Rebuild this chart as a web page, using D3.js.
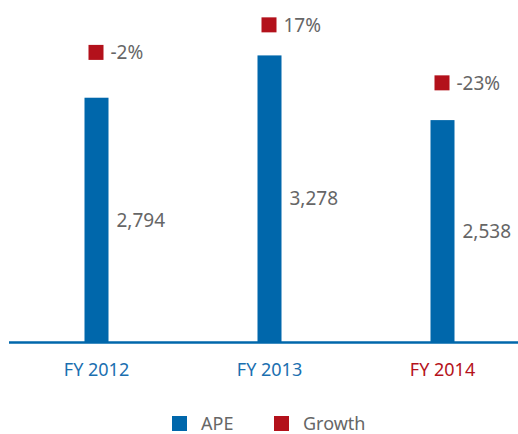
<!DOCTYPE html>
<html lang="en">
<head>
    <meta charset="utf-8">
    <title>APE chart</title>
    <script src="https://cdnjs.cloudflare.com/ajax/libs/d3/7.8.5/d3.min.js"></script>
    <style>
        body { margin: 0; background: #fff; }
        text { font-family: "Noto Sans", Roboto, sans-serif; }
    </style>
</head>
<body>
<script>
    var categories = ["FY 2012", "FY 2013", "FY 2014"];
    var ape = [2794, 3278, 2538];
    var growth = [-2, 17, -23];
    var growthLabels = ["-2%", "17%", "-23%"];
    var catColors = ["#1a6fb0", "#1a6fb0", "#b5121b"];

    var blue = "#0067ab", red = "#b3111b", grey = "#666";
    var width = 518, height = 434;

    var svg = d3.select("body").append("svg")
        .attr("width", width)
        .attr("height", height);

    var x = d3.scaleBand().domain(categories).range([10, 529]);
    var y = d3.scaleLinear().domain([0, 3500]).range([342, 36]);
    var g = d3.scaleLinear().domain([-30, 30]).range([93, 6]);
    var barW = 24;

    // bars
    svg.selectAll("rect.bar").data(ape).enter().append("rect")
        .attr("class", "bar")
        .attr("x", function(d, i) { return x(categories[i]) + x.bandwidth() / 2 - barW / 2; })
        .attr("y", function(d) { return y(d); })
        .attr("width", barW)
        .attr("height", function(d) { return y(0) - y(d); })
        .style("fill", blue);

    // value labels
    svg.selectAll("text.val").data(ape).enter().append("text")
        .attr("class", "val")
        .attr("x", function(d, i) { return x(categories[i]) + x.bandwidth() / 2 + barW / 2 + 8; })
        .attr("y", function(d) { return (y(d) + y(0)) / 2; })
        .attr("dy", "0.35em")
        .style("font-size", "19px")
        .style("fill", grey)
        .text(function(d) { return d3.format(",")(d); });

    // growth markers
    svg.selectAll("rect.gr").data(growth).enter().append("rect")
        .attr("class", "gr")
        .attr("x", function(d, i) { return x(categories[i]) + x.bandwidth() / 2 - barW / 2 + 4; })
        .attr("y", function(d) { return g(d) - 7.5; })
        .attr("width", 15)
        .attr("height", 15)
        .style("fill", red);

    svg.selectAll("text.gr").data(growth).enter().append("text")
        .attr("class", "gr")
        .attr("x", function(d, i) { return x(categories[i]) + x.bandwidth() / 2 - barW / 2 + 26; })
        .attr("y", function(d) { return g(d); })
        .attr("dy", "0.35em")
        .style("font-size", "19px")
        .style("fill", grey)
        .text(function(d, i) { return growthLabels[i]; });

    // axis line
    svg.append("line")
        .attr("x1", 9).attr("x2", width)
        .attr("y1", y(0) + 0.5).attr("y2", y(0) + 0.5)
        .style("stroke", blue)
        .style("stroke-width", 2.5);

    // category labels
    svg.selectAll("text.cat").data(categories).enter().append("text")
        .attr("class", "cat")
        .attr("x", function(d) { return x(d) + x.bandwidth() / 2; })
        .attr("y", 376)
        .attr("text-anchor", "middle")
        .style("font-size", "18px")
        .style("fill", function(d, i) { return catColors[i]; })
        .text(function(d) { return d; });

    // legend
    var legend = [{name: "APE", color: blue, x: 172}, {name: "Growth", color: red, x: 274}];
    var lg = svg.selectAll("g.legend").data(legend).enter().append("g")
        .attr("class", "legend")
        .attr("transform", function(d) { return "translate(" + d.x + ",416)"; });
    lg.append("rect").attr("width", 15).attr("height", 15).style("fill", function(d) { return d.color; });
    lg.append("text")
        .attr("x", 29).attr("y", 7.5).attr("dy", "0.35em")
        .style("font-size", "18px")
        .style("fill", grey)
        .text(function(d) { return d.name; });
</script>
</body>
</html>
